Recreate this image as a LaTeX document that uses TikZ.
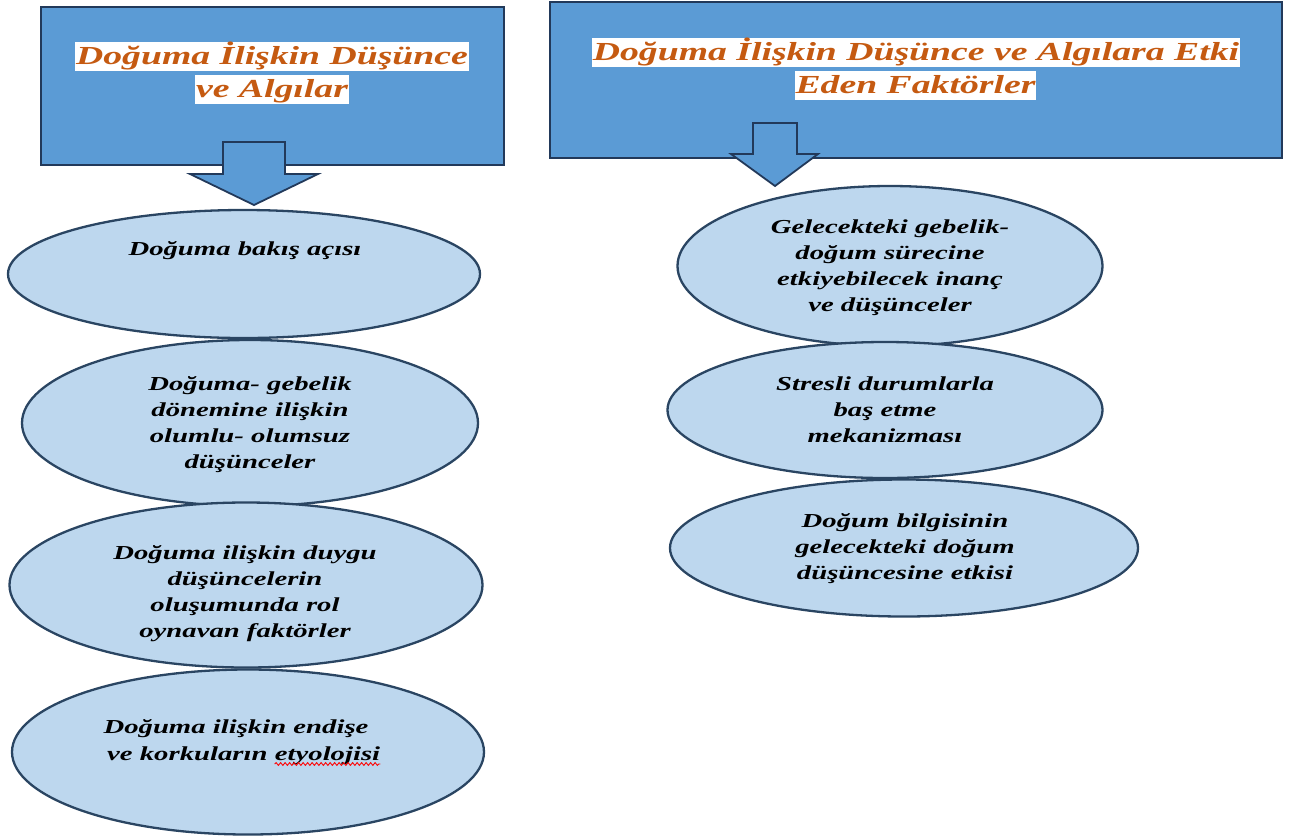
\documentclass[tikz,border=0pt]{standalone}
\usepackage{fontspec}
\newfontfamily\stretchserif[FakeStretch=1.45]{Liberation Serif}
\usetikzlibrary{shapes.geometric,decorations.pathmorphing}
\definecolor{boxblue}{HTML}{5B9BD5}
\definecolor{boxedge}{HTML}{22395A}
\definecolor{ellfill}{HTML}{BDD7EE}
\definecolor{elledge}{HTML}{2A4562}
\definecolor{titleorange}{HTML}{C55A11}
\tikzset{
 titlebox/.style={draw=boxedge, line width=2.2pt, fill=boxblue, inner sep=0pt, anchor=north west},
 blockarrow/.style={draw=boxedge, line width=1.8pt, fill=boxblue, line join=miter},
 oval/.style={ellipse, draw=elledge, line width=2.3pt, fill=ellfill, inner sep=0pt},
 titleline/.style={fill=white, text=titleorange, font=\stretchserif\bfseries\itshape\fontsize{26}{33}\selectfont, anchor=base, inner xsep=1pt, inner ysep=0pt, text height=22pt, text depth=7pt},
 ovaltext/.style={align=center, font=\stretchserif\bfseries\itshape\fontsize{19.8}{26}\selectfont, text=black, inner sep=0pt},
 spellwave/.style={draw=red, line width=0.9pt, decorate, decoration={snake, amplitude=1.4pt, segment length=4.5pt}},
}
\begin{document}
\begin{tikzpicture}[x=1pt,y=-1pt]
\useasboundingbox (0,0) rectangle (1290,839);
% title boxes
\node[titlebox, minimum width=463pt, minimum height=158pt] (lbox) at (40,6) {};
\node[titlebox, minimum width=732pt, minimum height=156pt] (rbox) at (549,1) {};
\node[titleline] (lt1) at (272,64) {Doğuma İlişkin Düşünce};
\node[titleline] (lt2) at (272,97) {ve Algılar};
\node[titleline] (rt1) at (916,60) {Doğuma İlişkin Düşünce ve Algılara Etki};
\node[titleline] (rt2) at (915.5,93) {Eden Faktörler};
% block arrows
\draw[blockarrow] (254,205) -- (190,174) -- (223,174) -- (223,142) -- (285,142) -- (285,174) -- (318,174) -- cycle;
\draw[blockarrow] (775,186) -- (731,154) -- (753,154) -- (753,123) -- (797,123) -- (797,154) -- (818,154) -- cycle;
% left ellipses
\node[oval, minimum width=472pt, minimum height=128pt] (e1) at (244,274) {};
\node[oval, minimum width=456pt, minimum height=166pt] (e2) at (250,423) {};
\node[oval, minimum width=473pt, minimum height=165pt] (e3) at (246,585) {};
\node[oval, minimum width=472pt, minimum height=165pt] (e4) at (248,752) {};
% right ellipses
\node[oval, minimum width=425pt, minimum height=160pt] (r1) at (890,266) {};
\node[oval, minimum width=435pt, minimum height=136pt] (r2) at (885,410) {};
\node[oval, minimum width=468pt, minimum height=137pt] (r3) at (904,548) {};
% texts
\node[ovaltext] (t1) at (245,250.5) {Doğuma bakış açısı};
\node[ovaltext] (t2) at (250,425) {Doğuma- gebelik\\dönemine ilişkin\\olumlu- olumsuz\\düşünceler};
\node[ovaltext] (t3) at (245,594) {Doğuma ilişkin duygu\\düşüncelerin\\oluşumunda rol\\oynavan faktörler};
\node[ovaltext, anchor=base] (t4a) at (236,733) {Doğuma ilişkin endişe};
\node[ovaltext, anchor=base west] (t4b) at (107,760) {ve korkuların};
\node[ovaltext, anchor=base west] (t4c) at ([xshift=7pt]t4b.base east) {etyolojisi};
\draw[spellwave] ([yshift=-4pt]t4c.base west) -- ([yshift=-4pt]t4c.base east);
\node[ovaltext] (s1) at (890,268) {Gelecekteki gebelik-\\doğum sürecine\\etkiyebilecek inanç\\ve düşünceler};
\node[ovaltext] (s2) at (885,410) {Stresli durumlarla\\baş etme\\mekanizması};
\node[ovaltext] (s3) at (905,549) {Doğum bilgisinin\\gelecekteki doğum\\düşüncesine etkisi};
\end{tikzpicture}
\end{document}
